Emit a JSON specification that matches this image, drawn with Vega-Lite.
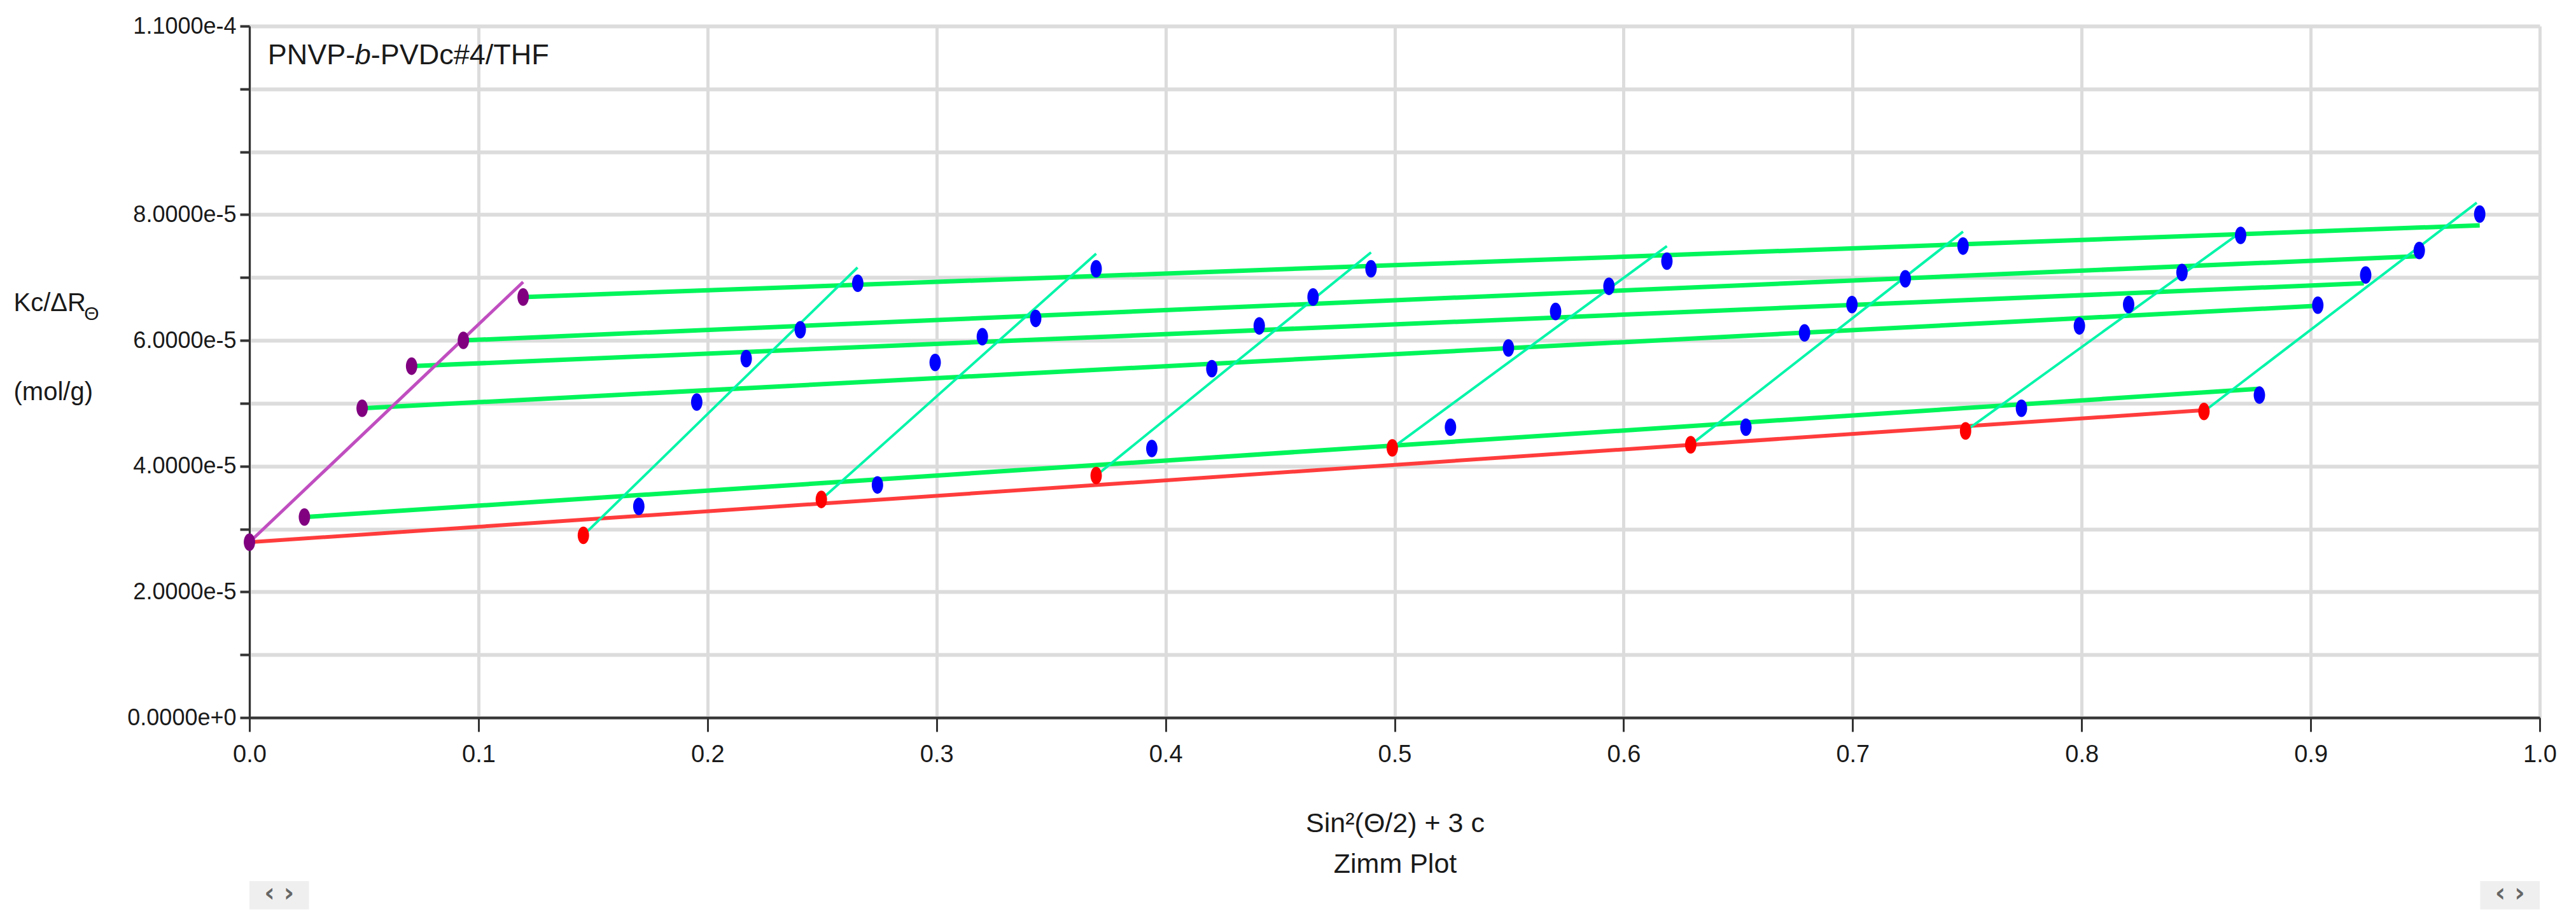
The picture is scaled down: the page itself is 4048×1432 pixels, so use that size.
{
  "$schema": "https://vega.github.io/schema/vega-lite/v6.json",
  "width": 3599,
  "height": 1087,
  "autosize": {"type": "none"},
  "padding": {"left": 392, "top": 41, "right": 57, "bottom": 304},
  "background": "white",
  "config": {"view": {"stroke": null}, "font": "Liberation Sans"},
  "datasets": {
    "lines": [
      {"series": "red", "line": "R", "x": 0.0, "y": 2.79e-5},
      {"series": "red", "line": "R", "x": 0.8534, "y": 4.89e-5},
      {"series": "purple", "line": "P", "x": 0.0, "y": 2.79e-5},
      {"series": "purple", "line": "P", "x": 0.1195, "y": 6.93e-5},
      {"series": "green", "line": "G1", "x": 0.0240, "y": 3.19e-5},
      {"series": "green", "line": "G1", "x": 0.8770, "y": 5.23e-5},
      {"series": "green", "line": "G2", "x": 0.0492, "y": 4.92e-5},
      {"series": "green", "line": "G2", "x": 0.9024, "y": 6.55e-5},
      {"series": "green", "line": "G3", "x": 0.0708, "y": 5.59e-5},
      {"series": "green", "line": "G3", "x": 0.9232, "y": 6.91e-5},
      {"series": "green", "line": "G4", "x": 0.0934, "y": 6.00e-5},
      {"series": "green", "line": "G4", "x": 0.9468, "y": 7.34e-5},
      {"series": "green", "line": "G5", "x": 0.1195, "y": 6.69e-5},
      {"series": "green", "line": "G5", "x": 0.9738, "y": 7.83e-5},
      {"series": "cyan", "line": "C1", "x": 0.1458, "y": 2.90e-5},
      {"series": "cyan", "line": "C1", "x": 0.2655, "y": 7.16e-5},
      {"series": "cyan", "line": "C2", "x": 0.2497, "y": 3.47e-5},
      {"series": "cyan", "line": "C2", "x": 0.3697, "y": 7.38e-5},
      {"series": "cyan", "line": "C3", "x": 0.3697, "y": 3.85e-5},
      {"series": "cyan", "line": "C3", "x": 0.4897, "y": 7.40e-5},
      {"series": "cyan", "line": "C4", "x": 0.4990, "y": 4.29e-5},
      {"series": "cyan", "line": "C4", "x": 0.6189, "y": 7.50e-5},
      {"series": "cyan", "line": "C5", "x": 0.6293, "y": 4.34e-5},
      {"series": "cyan", "line": "C5", "x": 0.7482, "y": 7.73e-5},
      {"series": "cyan", "line": "C6", "x": 0.7493, "y": 4.56e-5},
      {"series": "cyan", "line": "C6", "x": 0.8694, "y": 7.72e-5},
      {"series": "cyan", "line": "C7", "x": 0.8534, "y": 4.87e-5},
      {"series": "cyan", "line": "C7", "x": 0.9725, "y": 8.19e-5}
    ],
    "points": [
      {"series": "red", "x": 0.1458, "y": 2.90e-5},
      {"series": "red", "x": 0.2497, "y": 3.47e-5},
      {"series": "red", "x": 0.3697, "y": 3.85e-5},
      {"series": "red", "x": 0.4990, "y": 4.29e-5},
      {"series": "red", "x": 0.6293, "y": 4.34e-5},
      {"series": "red", "x": 0.7493, "y": 4.56e-5},
      {"series": "red", "x": 0.8534, "y": 4.87e-5},
      {"series": "purple", "x": 0.0, "y": 2.79e-5},
      {"series": "purple", "x": 0.0240, "y": 3.19e-5},
      {"series": "purple", "x": 0.0492, "y": 4.92e-5},
      {"series": "purple", "x": 0.0708, "y": 5.59e-5},
      {"series": "purple", "x": 0.0934, "y": 6.00e-5},
      {"series": "purple", "x": 0.1195, "y": 6.69e-5},
      {"series": "blue", "x": 0.1700, "y": 3.36e-5},
      {"series": "blue", "x": 0.1953, "y": 5.02e-5},
      {"series": "blue", "x": 0.2169, "y": 5.71e-5},
      {"series": "blue", "x": 0.2405, "y": 6.17e-5},
      {"series": "blue", "x": 0.2656, "y": 6.91e-5},
      {"series": "blue", "x": 0.2742, "y": 3.70e-5},
      {"series": "blue", "x": 0.2994, "y": 5.65e-5},
      {"series": "blue", "x": 0.3200, "y": 6.06e-5},
      {"series": "blue", "x": 0.3433, "y": 6.35e-5},
      {"series": "blue", "x": 0.3697, "y": 7.14e-5},
      {"series": "blue", "x": 0.3940, "y": 4.28e-5},
      {"series": "blue", "x": 0.4202, "y": 5.55e-5},
      {"series": "blue", "x": 0.4409, "y": 6.23e-5},
      {"series": "blue", "x": 0.4644, "y": 6.69e-5},
      {"series": "blue", "x": 0.4897, "y": 7.14e-5},
      {"series": "blue", "x": 0.5244, "y": 4.62e-5},
      {"series": "blue", "x": 0.5497, "y": 5.88e-5},
      {"series": "blue", "x": 0.5703, "y": 6.46e-5},
      {"series": "blue", "x": 0.5936, "y": 6.86e-5},
      {"series": "blue", "x": 0.6189, "y": 7.26e-5},
      {"series": "blue", "x": 0.6534, "y": 4.62e-5},
      {"series": "blue", "x": 0.6790, "y": 6.12e-5},
      {"series": "blue", "x": 0.6997, "y": 6.57e-5},
      {"series": "blue", "x": 0.7230, "y": 6.98e-5},
      {"series": "blue", "x": 0.7482, "y": 7.50e-5},
      {"series": "blue", "x": 0.7737, "y": 4.92e-5},
      {"series": "blue", "x": 0.7990, "y": 6.23e-5},
      {"series": "blue", "x": 0.8205, "y": 6.57e-5},
      {"series": "blue", "x": 0.8438, "y": 7.08e-5},
      {"series": "blue", "x": 0.8694, "y": 7.67e-5},
      {"series": "blue", "x": 0.8776, "y": 5.13e-5},
      {"series": "blue", "x": 0.9031, "y": 6.56e-5},
      {"series": "blue", "x": 0.9240, "y": 7.04e-5},
      {"series": "blue", "x": 0.9474, "y": 7.43e-5},
      {"series": "blue", "x": 0.9738, "y": 8.01e-5}
    ]
  },
  "layer": [
    {
      "encoding": {
        "x": {
          "field": "x",
          "type": "quantitative",
          "scale": {"domain": [0, 1], "nice": false, "zero": false},
          "axis": {
            "values": [0, 0.1, 0.2, 0.3, 0.4, 0.5, 0.6, 0.7, 0.8, 0.9, 1.0],
            "format": ".1f",
            "grid": true,
            "gridColor": "#dcdcdc",
            "gridWidth": 5,
            "domainColor": "#333333",
            "domainWidth": 4,
            "tickColor": "#333333",
            "tickWidth": 3,
            "tickSize": 22,
            "labelFont": "Liberation Sans",
            "labelFontSize": 38,
            "labelColor": "#1a1a1a",
            "labelPadding": 17,
            "labelFlush": false,
            "labelOverlap": false,
            "labelLimit": 500,
            "title": ["Sin²(Θ/2) + 3 c", "Zimm Plot"],
            "titleFont": "Liberation Sans",
            "titleFontSize": 43,
            "titleFontWeight": "normal",
            "titleColor": "#1a1a1a",
            "titleLineHeight": 64,
            "titleBaseline": "alphabetic",
            "titleAlign": "center",
            "titleX": 1800,
            "titleY": 179
          }
        },
        "y": {
          "field": "y",
          "type": "quantitative",
          "scale": {"domain": [0, 0.00011], "nice": false, "zero": false},
          "axis": {
            "values": [0, 0.00001, 0.00002, 0.00003, 0.00004, 0.00005, 0.00006, 0.00007, 0.00008, 0.00009, 0.0001, 0.00011],
            "format": ".4e",
            "labelExpr": "indexof([0,2,4,6,8,11], round(datum.value*100000)) >= 0 ? datum.label : ''",
            "grid": true,
            "gridColor": "#dcdcdc",
            "gridWidth": 6,
            "domainColor": "#333333",
            "domainWidth": 3,
            "tickColor": "#333333",
            "tickWidth": 4,
            "tickSize": 15,
            "labelFont": "Liberation Sans",
            "labelFontSize": 36,
            "labelColor": "#1a1a1a",
            "labelPadding": 6,
            "labelOverlap": false,
            "labelFlush": false,
            "labelLimit": 500,
            "title": ["Kc/ΔR", "(mol/g)"],
            "titleFont": "Liberation Sans",
            "titleFontSize": 40,
            "titleFontWeight": "normal",
            "titleColor": "#1a1a1a",
            "titleAngle": 0,
            "titleAlign": "left",
            "titleBaseline": "alphabetic",
            "titleLineHeight": 140,
            "titleX": -371,
            "titleY": 447
          }
        }
      },
      "layer": [
        {
          "data": {"name": "lines"},
          "transform": [{"filter": "datum.series === 'red'"}],
          "mark": {"type": "line", "color": "#ff3c3c", "strokeWidth": 6},
          "encoding": {"detail": {"field": "line"}}
        },
        {
          "data": {"name": "lines"},
          "transform": [{"filter": "datum.series === 'green'"}],
          "mark": {"type": "line", "color": "#00f55a", "strokeWidth": 7},
          "encoding": {"detail": {"field": "line"}}
        },
        {
          "data": {"name": "lines"},
          "transform": [{"filter": "datum.series === 'cyan'"}],
          "mark": {"type": "line", "color": "#00f5a8", "strokeWidth": 4},
          "encoding": {"detail": {"field": "line"}}
        },
        {
          "data": {"name": "lines"},
          "transform": [{"filter": "datum.series === 'purple'"}],
          "mark": {"type": "line", "color": "#c04ec0", "strokeWidth": 5},
          "encoding": {"detail": {"field": "line"}}
        },
        {
          "data": {"name": "points"},
          "mark": {
            "type": "point",
            "filled": true,
            "opacity": 1,
            "size": 760,
            "shape": "M0,-1 C0.36,-1 0.65,-0.55 0.65,0 C0.65,0.55 0.36,1 0,1 C-0.36,1 -0.65,0.55 -0.65,0 C-0.65,-0.55 -0.36,-1 0,-1 Z"
          },
          "encoding": {
            "color": {
              "field": "series",
              "type": "nominal",
              "scale": {"domain": ["blue", "red", "purple"], "range": ["#0000ff", "#ff0000", "#800080"]},
              "legend": null
            }
          }
        }
      ]
    },
    {
      "data": {"values": [{}]},
      "mark": {"type": "text", "text": "PNVP-", "align": "left", "baseline": "alphabetic", "fontSize": 45, "font": "Liberation Sans", "color": "#1a1a1a"},
      "encoding": {
        "x": {"datum": 0.008, "type": "quantitative", "scale": {"domain": [0, 1], "nice": false, "zero": false}},
        "y": {"datum": 0.0001039, "type": "quantitative", "scale": {"domain": [0, 0.00011], "nice": false, "zero": false}}
      }
    },
    {
      "data": {"values": [{}]},
      "mark": {"type": "text", "text": "b", "align": "left", "baseline": "alphabetic", "fontSize": 45, "fontStyle": "italic", "font": "Liberation Sans", "color": "#1a1a1a", "dx": 137},
      "encoding": {
        "x": {"datum": 0.008, "type": "quantitative", "scale": {"domain": [0, 1], "nice": false, "zero": false}},
        "y": {"datum": 0.0001039, "type": "quantitative", "scale": {"domain": [0, 0.00011], "nice": false, "zero": false}}
      }
    },
    {
      "data": {"values": [{}]},
      "mark": {"type": "text", "text": "-PVDc#4/THF", "align": "left", "baseline": "alphabetic", "fontSize": 45, "font": "Liberation Sans", "color": "#1a1a1a", "dx": 162},
      "encoding": {
        "x": {"datum": 0.008, "type": "quantitative", "scale": {"domain": [0, 1], "nice": false, "zero": false}},
        "y": {"datum": 0.0001039, "type": "quantitative", "scale": {"domain": [0, 0.00011], "nice": false, "zero": false}}
      }
    },
    {
      "data": {"values": [{}]},
      "mark": {"type": "text", "text": "Θ", "align": "left", "baseline": "alphabetic", "fontSize": 30, "font": "Liberation Sans", "color": "#1a1a1a"},
      "encoding": {
        "x": {"datum": -0.0722, "type": "quantitative", "scale": {"domain": [0, 1], "nice": false, "zero": false}},
        "y": {"datum": 0.0000632, "type": "quantitative", "scale": {"domain": [0, 0.00011], "nice": false, "zero": false}}
      }
    },
    {
      "data": {"values": [{}]},
      "mark": {"type": "rect", "color": "#efefef"},
      "encoding": {
        "x": {"datum": 0.0, "type": "quantitative", "scale": {"domain": [0, 1], "nice": false, "zero": false}},
        "x2": {"datum": 0.026},
        "y": {"datum": -0.0000260, "type": "quantitative", "scale": {"domain": [0, 0.00011], "nice": false, "zero": false}},
        "y2": {"datum": -0.0000305}
      }
    },
    {
      "data": {"values": [{}]},
      "mark": {"type": "rect", "color": "#efefef"},
      "encoding": {
        "x": {"datum": 0.974, "type": "quantitative", "scale": {"domain": [0, 1], "nice": false, "zero": false}},
        "x2": {"datum": 1.0},
        "y": {"datum": -0.0000260, "type": "quantitative", "scale": {"domain": [0, 0.00011], "nice": false, "zero": false}},
        "y2": {"datum": -0.0000305}
      }
    },
    {
      "data": {"values": [{}]},
      "mark": {"type": "text", "text": "‹ ›", "align": "center", "baseline": "middle", "fontSize": 40, "font": "DejaVu Sans", "fontWeight": "bold", "color": "#666666"},
      "encoding": {
        "x": {"datum": 0.013, "type": "quantitative", "scale": {"domain": [0, 1], "nice": false, "zero": false}},
        "y": {"datum": -0.0000280, "type": "quantitative", "scale": {"domain": [0, 0.00011], "nice": false, "zero": false}}
      }
    },
    {
      "data": {"values": [{}]},
      "mark": {"type": "text", "text": "‹ ›", "align": "center", "baseline": "middle", "fontSize": 40, "font": "DejaVu Sans", "fontWeight": "bold", "color": "#666666"},
      "encoding": {
        "x": {"datum": 0.987, "type": "quantitative", "scale": {"domain": [0, 1], "nice": false, "zero": false}},
        "y": {"datum": -0.0000280, "type": "quantitative", "scale": {"domain": [0, 0.00011], "nice": false, "zero": false}}
      }
    }
  ]
}
